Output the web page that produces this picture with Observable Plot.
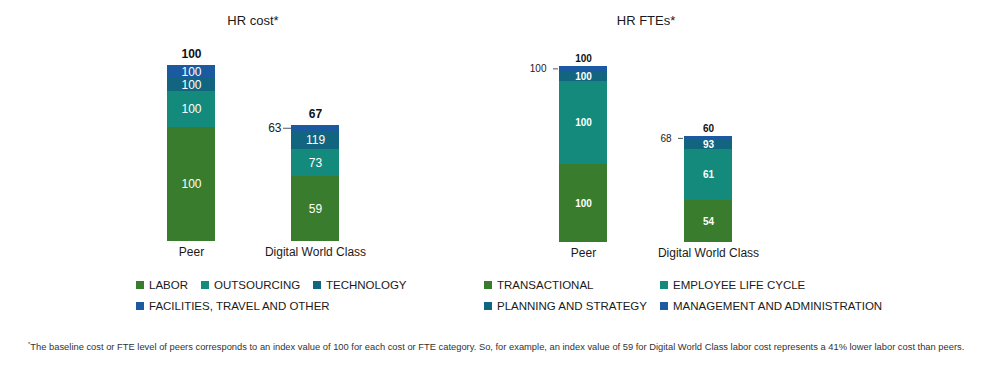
<!DOCTYPE html>
<html>
<head>
<meta charset="utf-8">
<script src="https://cdn.jsdelivr.net/npm/d3@7"></script>
<script src="https://cdn.jsdelivr.net/npm/@observablehq/plot@0.6"></script>
<style>
  html, body { margin: 0; padding: 0; background: #fff; }
  #root { position: relative; width: 1000px; height: 369px; font-family: "Liberation Sans", Arial, sans-serif; color: #1a1a1a; }
  .panel { position: absolute; top: 0; }
  .title { position: absolute; top: 13px; font-size: 13px; transform: translateX(-50%); white-space: nowrap; }
  .legend { position: absolute; font-size: 11.5px; white-space: nowrap; color: #1a1a1a; }
  .item { position: absolute; display: flex; align-items: center; }
  .sw { width: 8px; height: 8px; margin-right: 5px; display: inline-block; }
  #foot { position: absolute; left: 28px; top: 341px; font-size: 9.5px; color: #333; white-space: nowrap; }
  #foot sup { font-size: 6px; vertical-align: 4px; }
</style>
</head>
<body>
<div id="root"></div>
<script>
// ---- data ----
const groups = ["Peer", "Digital World Class"];
const colors = ["#3a7c2e", "#138a7b", "#12657f", "#1b5aa0"];

const costSeries = ["LABOR", "OUTSOURCING", "TECHNOLOGY", "FACILITIES, TRAVEL AND OTHER"];
const costPeer = [64.8, 20.5, 7.6, 7.1];        // segment heights (peer total = 100)
const costDWC = [37.1, 15.0, 10.6, 3.2];
const costPeerIndex = [100, 100, 100, 100];      // printed index values
const costDWCIndex = [59, 73, 119, 63];
const costTotals = [100, 67];

const fteSeries = ["TRANSACTIONAL", "EMPLOYEE LIFE CYCLE", "PLANNING AND STRATEGY", "MANAGEMENT AND ADMINISTRATION"];
const ftePeer = [44.1, 47.3, 5.9, 2.7];
const fteDWC = [23.9, 28.8, 5.3, 2.3];
const ftePeerIndex = [100, 100, 100, 100];
const fteDWCIndex = [54, 61, 93, 68];
const fteTotals = [100, 60];

// ---- build ----
function buildRows(series, vals, idx) {
  const rows = [];
  groups.forEach((g, gi) => {
    let acc = 0;
    series.forEach((s, si) => {
      const v = vals[gi][si];
      rows.push({group: g, series: s, y1: acc, y2: acc + v, mid: acc + v / 2, label: String(idx[gi][si]), small: v < 4});
      acc += v;
    });
  });
  return rows;
}

function panel(o) {
  const rows = buildRows(o.series, o.vals, o.idx);
  const tots = groups.map((g, gi) => ({group: g, top: d3.sum(o.vals[gi]), label: String(o.totals[gi])}));
  const bw = 48;
  return Plot.plot({
    width: 500,
    height: 262,
    margin: 0,
    x: {domain: groups, range: o.xRange, paddingInner: 0.613, paddingOuter: 0, axis: null},
    y: {domain: [0, 100], range: o.yRange, axis: null},
    color: {domain: o.series, range: colors},
    style: {fontFamily: '"Liberation Sans", Arial, sans-serif', background: "transparent"},
    marks: [
      Plot.rectY(rows, {x: "group", y1: "y1", y2: "y2", fill: "series", shapeRendering: "crispEdges"}),
      Plot.text(rows.filter(d => !d.small), {x: "group", y: "mid", text: "label", fill: "white", fontSize: o.fs, fontWeight: o.inWeight}),
      Plot.text(rows.filter(d => d.small), {x: "group", y: "mid", text: "label", fill: "#1a1a1a", fontSize: o.fs, textAnchor: "end", dx: -(bw / 2 + o.leadGap)}),
      Plot.tickY(rows.filter(d => d.small), {x: "group", y: "mid", stroke: "#555", strokeWidth: 1, insetLeft: o.leadX1, insetRight: bw + o.leadX2}),
      Plot.text(tots, {x: "group", y: "top", text: "label", fontWeight: "bold", fontSize: o.fs, fill: "#111", dy: o.totDy}),
      Plot.text(groups, {x: d => d, y: 0, text: d => d, fontSize: 12, fill: "#1a1a1a", dy: o.catDy})
    ]
  });
}

const root = document.getElementById("root");

const left = panel({series: costSeries, vals: [costPeer, costDWC], idx: [costPeerIndex, costDWCIndex], totals: costTotals,
  xRange: [167, 339.3], yRange: [240.8, 65], fs: 12, inWeight: "normal", leadGap: 10, leadX1: -8, leadX2: 0, totDy: -11, catDy: 11});
left.classList.add("panel"); left.style.left = "0px";
root.appendChild(left);

const right = panel({series: fteSeries, vals: [ftePeer, fteDWC], idx: [ftePeerIndex, fteDWCIndex], totals: fteTotals,
  xRange: [59, 232.7], yRange: [242, 66], fs: 10, inWeight: "bold", leadGap: 13, leadX1: -6, leadX2: 1, totDy: -8, catDy: 10.5});
right.classList.add("panel"); right.style.left = "500px";
root.appendChild(right);

// titles
function addTitle(text, cx) {
  const t = document.createElement("div");
  t.className = "title";
  t.style.left = cx + "px";
  t.textContent = text;
  root.appendChild(t);
}
addTitle("HR cost*", 253);
addTitle("HR FTEs*", 646);

// legends
function addLegend(series, positions) {
  series.forEach((s, i) => {
    const it = document.createElement("div");
    it.className = "legend item";
    it.style.left = positions[i][0] + "px";
    it.style.top = positions[i][1] + "px";
    const sw = document.createElement("span");
    sw.className = "sw";
    sw.style.background = colors[i];
    it.appendChild(sw);
    it.appendChild(document.createTextNode(s));
    root.appendChild(it);
  });
}
addLegend(costSeries, [[136, 279], [201, 279], [313, 279], [136, 300]]);
addLegend(fteSeries, [[484, 279], [660, 279], [484, 300], [660, 300]]);

// footnote
const foot = document.createElement("div");
foot.id = "foot";
foot.innerHTML = "<sup>*</sup>The baseline cost or FTE level of peers corresponds to an index value of 100 for each cost or FTE category. So, for example, an index value of 59 for Digital World Class labor cost represents a 41% lower labor cost than peers.";
root.appendChild(foot);
const w = foot.getBoundingClientRect().width;
foot.style.fontSize = (9.5 * 937 / w).toFixed(2) + "px";
</script>
</body>
</html>
